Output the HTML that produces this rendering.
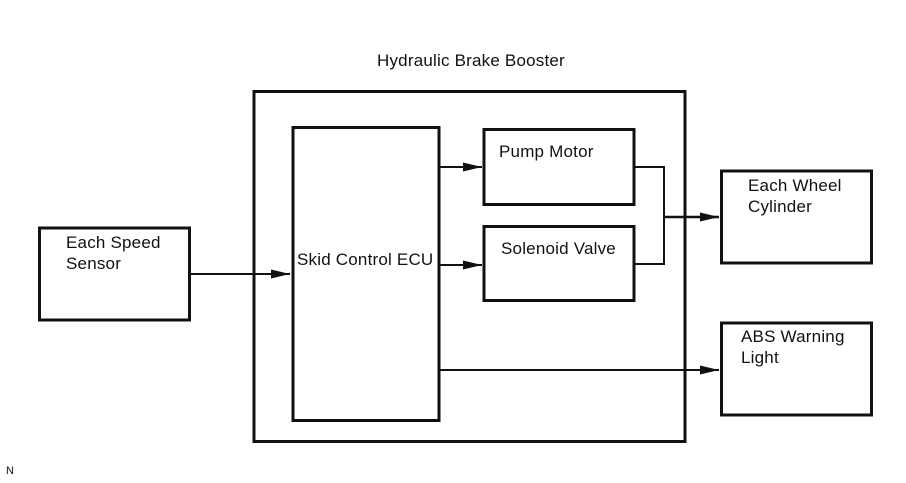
<!DOCTYPE html>
<html><head><meta charset="utf-8"><style>
html,body{margin:0;padding:0;background:#fff;}
svg{display:block;}
text{font-family:"Liberation Sans",sans-serif;font-size:17px;letter-spacing:0.2px;fill:#111;}
</style></head><body>
<svg width="906" height="483" viewBox="0 0 906 483" xmlns="http://www.w3.org/2000/svg">
<defs>
<marker id="a" markerWidth="20" markerHeight="10" refX="19" refY="5" orient="auto" markerUnits="userSpaceOnUse">
<path d="M0,0.5 L19,5 L0,9.5 Z" fill="#111"/>
</marker>
</defs>
<g fill="none" stroke="#111" stroke-width="3">
<rect x="254" y="91.5" width="431" height="350"/>
<rect x="293" y="127.5" width="146" height="293"/>
<rect x="39.5" y="228" width="150" height="92"/>
<rect x="484" y="129.5" width="150" height="75"/>
<rect x="484" y="226.5" width="150" height="74"/>
<rect x="721.5" y="171" width="150" height="92"/>
<rect x="721.5" y="323" width="150" height="92"/>
</g>
<g fill="none" stroke="#111" stroke-width="2">
<line x1="191" y1="274" x2="290" y2="274" marker-end="url(#a)"/>
<line x1="440" y1="167" x2="482" y2="167" marker-end="url(#a)"/>
<line x1="440" y1="265" x2="482" y2="265" marker-end="url(#a)"/>
<polyline points="635,167 664,167 664,264 635,264"/>
<line x1="664" y1="217" x2="719" y2="217" stroke-width="2.5" marker-end="url(#a)"/>
<line x1="440" y1="370" x2="719" y2="370" marker-end="url(#a)"/>
</g>
<text x="377" y="66">Hydraulic Brake Booster</text>
<text x="66" y="248">Each Speed</text>
<text x="66" y="269">Sensor</text>
<text x="297" y="265">Skid Control ECU</text>
<text x="499" y="157">Pump Motor</text>
<text x="501" y="254">Solenoid Valve</text>
<text x="748" y="191">Each Wheel</text>
<text x="748" y="212">Cylinder</text>
<text x="741" y="342">ABS Warning</text>
<text x="741" y="363">Light</text>
<text x="6" y="474" style="font-size:11px">N</text>
</svg>
</body></html>
